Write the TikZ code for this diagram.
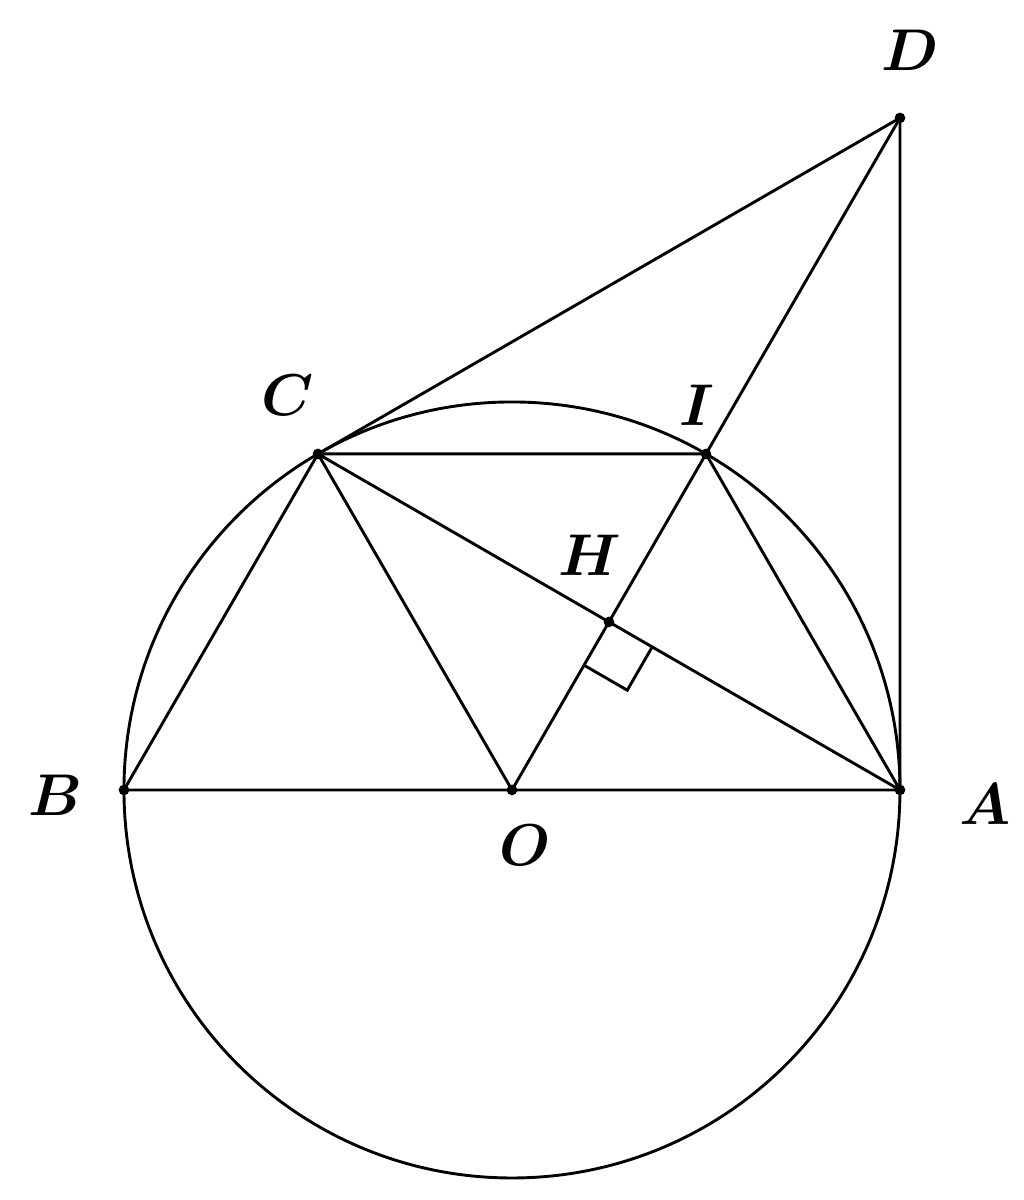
\documentclass[tikz,border=0pt]{standalone}
\usepackage{tikz}
\usepackage{bm}
\usetikzlibrary{calc}
\begin{document}
\begin{tikzpicture}[x=1cm,y=1cm,
  geo/.style={line width=0.85pt, black},
  pt/.style={circle, fill=black, inner sep=0pt, minimum size=0.11cm},
  lbl/.style={font=\fontsize{18}{21}\selectfont}]
\useasboundingbox (-5.278,-4.227) rectangle (5.278,8.144);
\def\r{4}
\coordinate (O) at (0,0);
\coordinate (A) at (\r,0);
\coordinate (B) at (-\r,0);
\coordinate (C) at (120:\r);
\coordinate (I) at (60:\r);
\coordinate (D) at ({\r},{\r*tan(60)});
\coordinate (H) at ($(A)!0.5!(C)$);
\draw[geo] (O) circle (\r);
\draw[geo] (B) -- (A) -- (D) -- (C) -- (B);
\draw[geo] (C) -- (I) -- (A) -- (C) -- (O) -- (D);
% right angle mark at H
\draw[geo] ($(H)+(240:0.515)$) -- ++(-30:0.515) -- ++(60:0.515);
\foreach \p in {A,B,C,D,I,H,O} \node[pt] at (\p) {};
\node[lbl] (lD) at (4.10,7.63) {$\bm{D}$};
\node[lbl] (lC) at (-2.31,4.07) {$\bm{C}$};
\node[lbl] (lI) at (1.91,3.97) {$\bm{I}$};
\node[lbl] (lH) at (0.80,2.42) {$\bm{H}$};
\node[lbl] (lB) at (-4.71,-0.05) {$\bm{B}$};
\node[lbl] (lA) at (4.88,-0.15) {$\bm{A}$};
\node[lbl] (lO) at (0.13,-0.57) {$\bm{O}$};
\end{tikzpicture}
\end{document}
